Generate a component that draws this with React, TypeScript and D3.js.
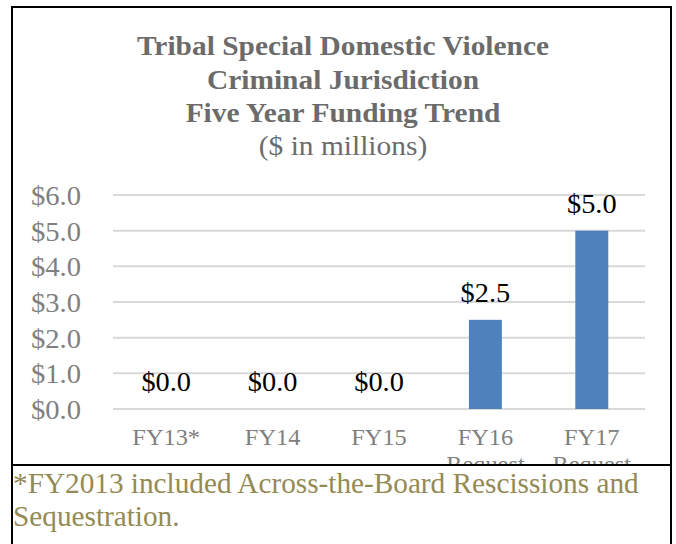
import React from "react";
import * as d3 from "d3";

const categories = ["FY13*", "FY14", "FY15", "FY16 Request", "FY17 Request"];
const values = [0, 0, 0, 2.5, 5.0];
const yTicks = [0, 1, 2, 3, 4, 5, 6];
const titleLines = [
  "Tribal Special Domestic Violence",
  "Criminal Jurisdiction",
  "Five Year Funding Trend",
];
const subtitle = "($ in millions)";
const footnoteLines = [
  "*FY2013 included Across-the-Board Rescissions and",
  "Sequestration.",
];

const W = 676;
const H = 544;
const FONT = "'Liberation Serif', 'Times New Roman', serif";

type STProps = {
  x: number;
  y: number;
  k?: number;
  anchor?: string;
  size: number;
  fill: string;
  weight?: string;
  children: React.ReactNode;
};

function ST({ x, y, k = 1, anchor = "start", size, fill, weight, children }: STProps) {
  return (
    <text
      transform={`translate(${x},${y}) scale(${k},1)`}
      textAnchor={anchor}
      fontSize={size}
      fontWeight={weight}
      fill={fill}
    >
      {children}
    </text>
  );
}

export default function App() {
  const x = d3
    .scaleBand<string>()
    .domain(categories)
    .range([113, 645])
    .paddingInner(0.69)
    .paddingOuter(0.345);
  const xc = d3.scaleBand<string>().domain(categories).range([113, 645]);
  const y = d3.scaleLinear().domain([0, 6]).range([409, 195]);
  const fmt = (v: number) => "$" + d3.format(".1f")(v);

  return (
    <svg
      width={W}
      height={H}
      style={{ position: "absolute", left: 0, top: 0, background: "#fff" }}
      fontFamily={FONT}
    >
      <defs>
        <clipPath id="plotClip">
          <rect x={0} y={0} width={W} height={464} />
        </clipPath>
      </defs>
      <rect x={0} y={0} width={W} height={H} fill="#fff" />
      {/* Title */}
      {titleLines.map((t, i) => (
        <ST key={t} x={343} y={55 + i * 33.5} k={1.09} anchor="middle" size={27} weight="bold" fill="#6b6b6b">
          {t}
        </ST>
      ))}
      <ST x={343} y={155} k={1.09} anchor="middle" size={27} fill="#6b6b6b">
        {subtitle}
      </ST>

      <g clipPath="url(#plotClip)">
        {/* gridlines */}
        {yTicks.map((t) => (
          <line key={t} x1={113} x2={645} y1={y(t)} y2={y(t)} stroke="#d9d9d9" strokeWidth={2} />
        ))}
        {/* y labels */}
        {yTicks.map((t) => (
          <ST key={"l" + t} x={81} y={y(t) + 10} k={1.08} anchor="end" size={26.5} fill="#808080">
            {fmt(t)}
          </ST>
        ))}
        {/* bars */}
        {categories.map((c, i) => (
          <rect
            key={c}
            x={x(c)}
            y={y(values[i])}
            width={x.bandwidth()}
            height={y(0) - y(values[i])}
            fill="#4f81bd"
          />
        ))}
        {/* value labels */}
        {categories.map((c, i) => (
          <ST
            key={"v" + c}
            x={(xc(c) as number) + xc.bandwidth() / 2}
            y={y(values[i]) - 18}
            k={1.07}
            anchor="middle"
            size={26.5}
            fill="#000"
          >
            {fmt(values[i])}
          </ST>
        ))}
        {/* x labels */}
        {categories.map((c) => {
          const parts = c.split(" ");
          const cx = (xc(c) as number) + xc.bandwidth() / 2;
          return (
            <g key={"x" + c}>
              {parts.map((p, j) => (
                <ST key={p} x={cx} y={445 + j * 27} k={1.06} anchor="middle" size={23} fill="#808080">
                  {p}
                </ST>
              ))}
            </g>
          );
        })}
      </g>

      {/* frame */}
      <line x1={12} x2={12} y1={6} y2={H} stroke="#000" strokeWidth={2} />
      <line x1={11} x2={672} y1={7} y2={7} stroke="#000" strokeWidth={2} />
      <line x1={671} x2={671} y1={6} y2={H} stroke="#000" strokeWidth={2} />
      <line x1={11} x2={672} y1={465} y2={465} stroke="#000" strokeWidth={2} />

      {/* footnote */}
      {footnoteLines.map((t, i) => (
        <ST key={t} x={13} y={493 + i * 33} k={1.02} size={28.7} fill="#948a54">
          {t}
        </ST>
      ))}
    </svg>
  );
}
